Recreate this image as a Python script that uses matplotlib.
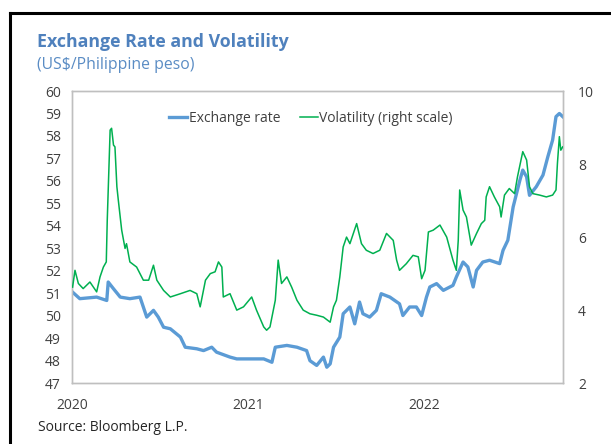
import numpy as np
import pandas as pd
import matplotlib
matplotlib.use("Agg")
import matplotlib.pyplot as plt
import matplotlib.dates as mdates
from matplotlib.lines import Line2D

# ---------------------------------------------------------------------------
# Data
# ---------------------------------------------------------------------------
FX_DATES = [
    "2020-01-02", "2020-01-17", "2020-02-21", "2020-03-13", "2020-03-16", "2020-03-27",
    "2020-04-10", "2020-04-30", "2020-05-21", "2020-06-04", "2020-06-18", "2020-06-28",
    "2020-07-09", "2020-07-23", "2020-08-13", "2020-08-23", "2020-09-16", "2020-09-30",
    "2020-10-17", "2020-10-27", "2020-11-24", "2020-12-08", "2020-12-29", "2021-02-02",
    "2021-02-19", "2021-02-26", "2021-03-22", "2021-04-12", "2021-05-02", "2021-05-09",
    "2021-05-23", "2021-06-06", "2021-06-13", "2021-06-20", "2021-06-27", "2021-07-10",
    "2021-07-17", "2021-07-31", "2021-08-10", "2021-08-20", "2021-08-27", "2021-09-10",
    "2021-09-24", "2021-10-04", "2021-10-22", "2021-11-11", "2021-11-18", "2021-12-02",
    "2021-12-16", "2021-12-27", "2022-01-06", "2022-01-13", "2022-01-27", "2022-02-10",
    "2022-03-02", "2022-03-09", "2022-03-23", "2022-04-02", "2022-04-13", "2022-04-20",
    "2022-05-03", "2022-05-17", "2022-06-07", "2022-06-14", "2022-06-24", "2022-07-05",
    "2022-07-19", "2022-07-25", "2022-08-02", "2022-08-08", "2022-08-22", "2022-09-05",
    "2022-09-15", "2022-09-25", "2022-10-02", "2022-10-09", "2022-10-16",
]
FX_RATE = [
    51.05, 50.76, 50.83, 50.68, 51.50, 51.20,
    50.83, 50.76, 50.83, 49.94, 50.24, 49.94,
    49.49, 49.42, 49.05, 48.60, 48.53, 48.45,
    48.60, 48.38, 48.16, 48.08, 48.08, 48.08,
    47.93, 48.60, 48.68, 48.60, 48.45, 48.00,
    47.79, 48.16, 47.71, 47.86, 48.60, 49.05,
    50.09, 50.39, 49.64, 50.61, 50.09, 49.94,
    50.24, 50.98, 50.83, 50.53, 50.01, 50.39,
    50.39, 50.01, 50.83, 51.28, 51.43, 51.13,
    51.35, 51.72, 52.39, 52.17, 51.28, 52.02,
    52.39, 52.47, 52.32, 52.91, 53.36, 54.84,
    56.03, 56.48, 56.18, 55.36, 55.74, 56.26,
    57.07, 57.82, 58.86, 59.00, 58.86,
]

VOL_DATES = [
    "2020-01-02", "2020-01-07", "2020-01-14", "2020-01-24", "2020-02-07", "2020-02-21",
    "2020-02-28", "2020-03-06", "2020-03-12", "2020-03-14", "2020-03-20", "2020-03-23",
    "2020-03-27", "2020-03-30", "2020-04-03", "2020-04-06", "2020-04-13", "2020-04-20",
    "2020-04-23", "2020-04-30", "2020-05-14", "2020-05-28", "2020-06-08", "2020-06-18",
    "2020-06-25", "2020-07-09", "2020-07-23", "2020-08-13", "2020-09-02", "2020-09-16",
    "2020-09-23", "2020-10-04", "2020-10-14", "2020-10-24", "2020-10-31", "2020-11-07",
    "2020-11-10", "2020-11-24", "2020-12-08", "2020-12-22", "2021-01-08", "2021-01-18",
    "2021-02-02", "2021-02-08", "2021-02-15", "2021-02-26", "2021-03-04", "2021-03-11",
    "2021-03-22", "2021-04-01", "2021-04-12", "2021-04-25", "2021-05-09", "2021-05-23",
    "2021-06-06", "2021-06-20", "2021-06-27", "2021-07-03", "2021-07-10", "2021-07-17",
    "2021-07-24", "2021-07-31", "2021-08-14", "2021-08-24", "2021-09-03", "2021-09-17",
    "2021-10-01", "2021-10-15", "2021-10-29", "2021-11-05", "2021-11-11", "2021-11-25",
    "2021-12-09", "2021-12-20", "2021-12-27", "2022-01-03", "2022-01-10", "2022-01-20",
    "2022-02-03", "2022-02-17", "2022-03-02", "2022-03-09", "2022-03-13", "2022-03-16",
    "2022-03-23", "2022-03-30", "2022-04-09", "2022-04-20", "2022-04-30", "2022-05-07",
    "2022-05-10", "2022-05-17", "2022-05-27", "2022-06-07", "2022-06-10", "2022-06-17",
    "2022-06-27", "2022-07-08", "2022-07-14", "2022-07-25", "2022-08-02", "2022-08-08",
    "2022-08-15", "2022-08-29", "2022-09-12", "2022-09-25", "2022-10-02", "2022-10-05",
    "2022-10-09", "2022-10-12", "2022-10-16",
]
VOLATILITY = [
    4.63, 5.09, 4.73, 4.59, 4.77, 4.50,
    4.91, 5.18, 5.32, 6.46, 8.93, 8.98,
    8.52, 8.47, 7.38, 7.01, 6.19, 5.69,
    5.82, 5.32, 5.18, 4.82, 4.82, 5.23,
    4.82, 4.54, 4.36, 4.45, 4.54, 4.45,
    4.09, 4.82, 5.00, 5.05, 5.32, 5.18,
    4.36, 4.45, 4.00, 4.09, 4.36, 4.00,
    3.54, 3.45, 3.54, 4.27, 5.37, 4.73,
    4.91, 4.63, 4.27, 4.00, 3.90, 3.86,
    3.81, 3.67, 4.09, 4.27, 4.91, 5.73,
    6.00, 5.82, 6.37, 5.82, 5.64, 5.55,
    5.64, 6.10, 5.91, 5.37, 5.09, 5.27,
    5.50, 5.46, 4.86, 5.09, 6.14, 6.19,
    6.33, 6.00, 5.37, 5.09, 5.91, 7.29,
    6.74, 6.55, 5.78, 6.10, 6.37, 6.46,
    7.10, 7.38, 7.10, 6.83, 6.55, 7.15,
    7.33, 7.19, 7.65, 8.34, 8.11, 7.38,
    7.19, 7.15, 7.10, 7.15, 7.29, 8.02,
    8.75, 8.38, 8.47,
]

YEAR_TICKS = ["2020-01-01", "2021-01-01", "2022-01-01"]
YEAR_LABELS = ["2020", "2021", "2022"]

BLUE = "#5b9bd5"
GREEN = "#00b050"
TITLE_BLUE = "#4f81bd"
SUB_BLUE = "#5a8cc4"
TEXT = "#404040"
SPINE = "#bfbfbf"

plt.rcParams["font.family"] = ["Open Sans", "DejaVu Sans"]

fx_dates = pd.to_datetime(FX_DATES)
vol_dates = pd.to_datetime(VOL_DATES)

fig = plt.figure(figsize=(6.11, 4.44), dpi=100)
ax = fig.add_axes([0.118, 0.137, 0.803, 0.658])
ax2 = ax.twinx()

ax.plot(fx_dates, FX_RATE, color=BLUE, lw=2.4, zorder=3)
ax2.plot(vol_dates, VOLATILITY, color=GREEN, lw=1.1, zorder=3)

ax.set_xlim(pd.Timestamp("2020-01-01"), pd.Timestamp("2022-10-16"))
ax.set_ylim(47, 60)
ax2.set_ylim(2, 10)
ax.set_yticks(range(47, 61))
ax2.set_yticks(range(2, 11, 2))
ax.set_xticks(pd.to_datetime(YEAR_TICKS))
ax.set_xticklabels(YEAR_LABELS)

for a in (ax, ax2):
    for s in a.spines.values():
        s.set_color(SPINE)
        s.set_linewidth(1.0)
    a.tick_params(length=0, labelsize=10, colors=TEXT)
ax.tick_params(axis="y", pad=8)
ax.tick_params(axis="x", pad=11)
ax2.tick_params(axis="y", pad=11)

handles = [Line2D([], [], color=BLUE, lw=2.4), Line2D([], [], color=GREEN, lw=1.1)]
ax.legend(handles, ["Exchange rate", "Volatility (right scale)"],
          loc="center", bbox_to_anchor=(0.487, 0.907), ncol=2, frameon=False,
          fontsize=10, handlelength=1.3, handletextpad=0.1, columnspacing=1.4,
          labelcolor=TEXT)

fig.text(0.061, 0.905, "Exchange Rate and Volatility", fontsize=12.8,
         fontweight="bold", color=TITLE_BLUE, va="center")
fig.text(0.061, 0.853, "(US$/Philippine peso)", fontsize=11.3,
         color=SUB_BLUE, va="center")
fig.text(0.063, 0.038, "Source: Bloomberg L.P.", fontsize=10,
         color="#262626", va="center")

# frame lines on left and top, as in the source page
fig.add_artist(Line2D([0.017, 0.017], [0.0, 0.971], color="black", lw=2.2,
                      transform=fig.transFigure))
fig.add_artist(Line2D([0.016, 1.0], [0.971, 0.971], color="black", lw=2.2,
                      transform=fig.transFigure))

fig.savefig("out.png", dpi=100)
